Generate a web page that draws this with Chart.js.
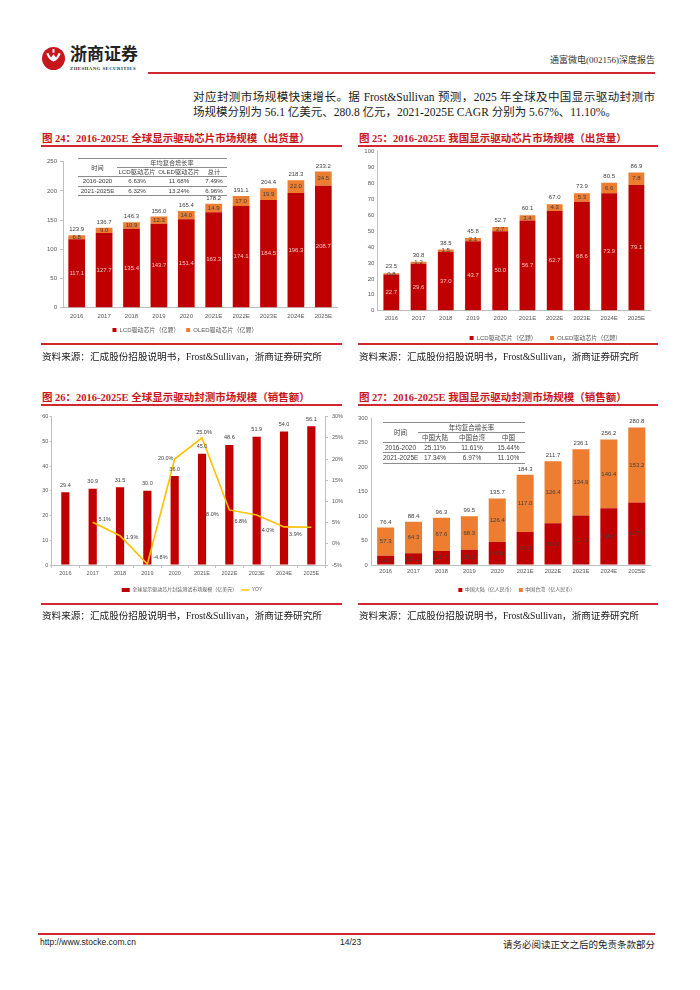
<!DOCTYPE html>
<html lang="zh-CN">
<head>
<meta charset="utf-8">
<title>通富微电(002156)深度报告 14/23</title>
<script src="https://cdn.jsdelivr.net/npm/chart.js@4.4.1/dist/chart.umd.min.js"></script>
<style>
  html, body { margin: 0; padding: 0; background: #fff; }
  body { width: 700px; height: 990px; position: relative; overflow: hidden;
         font-family: "Liberation Serif", "Noto Sans CJK SC", serif; color: #1a1a1a; }
  .abs { position: absolute; }
  .box { position: absolute; }
  .redline { position: absolute; background: #d0282e; }
  .body-line { position: absolute; left: 193px; font-size: 11.5px; line-height: 14px; white-space: nowrap; }
  .fig-title { position: absolute; font-size: 10.5px; font-weight: bold; color: #c8161d; white-space: nowrap;
               font-family: "Liberation Serif", "Noto Sans CJK SC", serif; }
  .source { position: absolute; font-size: 9.6px; white-space: nowrap; color: #1a1a1a; }
  .foot { position: absolute; top: 937px; font-size: 8.5px; white-space: nowrap; color: #1a1a1a; }
  table.cagr { position: absolute; border-collapse: collapse; table-layout: fixed;
               font-family: "Liberation Sans", "Noto Sans CJK SC", sans-serif; color: #404040;
               border-top: 0.7px solid #8c8c8c; }
  table.cagr td { padding: 0; text-align: center; white-space: nowrap; border-bottom: 0.7px solid #8c8c8c; }
  #t24 { left: 78px; top: 158px; font-size: 6.2px; }
  #t24 td { height: 8.2px; line-height: 8.2px; }
  #t27 { left: 383px; top: 421.5px; font-size: 6.5px; }
  #t27 td { height: 9.3px; line-height: 9.3px; }
</style>
</head>
<body>

<!-- header -->
<svg class="abs" style="left:42px;top:47px" width="23" height="23" viewBox="0 0 24 24">
  <circle cx="12" cy="12" r="12" fill="#c8161d"/>
  <path d="M5.5 6.5 Q12 21 18.5 6.5" stroke="#fff" stroke-width="2.2" fill="none"/>
  <path d="M12 7.5 L15 11.5 L12 15.5 L9 11.5 Z" fill="#fff"/>
  <rect x="11" y="2" width="2" height="4" fill="#fff"/>
</svg>
<div class="abs" style="left:70px;top:43px;font-family:'Noto Sans CJK SC';font-weight:bold;font-size:17px;line-height:20px;color:#222;">浙商证券</div>
<div class="abs" style="left:70px;top:66px;font-size:4.8px;line-height:5px;letter-spacing:0.45px;font-weight:bold;color:#333;">ZHESHANG SECURITIES</div>
<div class="abs" style="right:45px;top:53px;font-size:9px;color:#333;">通富微电(002156)深度报告</div>
<div class="redline" style="left:148px;top:72px;width:507px;height:2px;"></div>

<div class="body-line" style="top:90px;width:462px;text-align:justify;text-align-last:justify;">对应封测市场规模快速增长。据 Frost&amp;Sullivan 预测，2025 年全球及中国显示驱动封测市</div>
<div class="body-line" style="top:105px;">场规模分别为 56.1 亿美元、280.8 亿元，2021-2025E CAGR 分别为 5.67%、11.10%。</div>

<!-- figure titles -->
<div class="fig-title" style="left:42px;top:130px;">图 24：2016-2025E 全球显示驱动芯片市场规模（出货量）</div>
<div class="fig-title" style="left:359px;top:130px;">图 25：2016-2025E 我国显示驱动芯片市场规模（出货量）</div>
<div class="redline" style="left:41px;top:145px;width:301px;height:1.6px;"></div>
<div class="redline" style="left:358px;top:145px;width:300px;height:1.6px;"></div>

<div class="box" style="left:30px;top:150px;width:315px;height:195px;"><canvas id="c24"></canvas></div>
<div class="box" style="left:355px;top:140px;width:315px;height:212px;"><canvas id="c25"></canvas></div>
<table class="cagr" id="t24"></table>

<div class="redline" style="left:41px;top:343px;width:301px;height:1.6px;"></div>
<div class="redline" style="left:358px;top:343px;width:300px;height:1.6px;"></div>
<div class="source" style="left:42px;top:349px;">资料来源：汇成股份招股说明书，Frost&amp;Sullivan，浙商证券研究所</div>
<div class="source" style="left:359px;top:349px;">资料来源：汇成股份招股说明书，Frost&amp;Sullivan，浙商证券研究所</div>

<div class="fig-title" style="left:42px;top:389px;">图 26：2016-2025E 全球显示驱动封测市场规模（销售额）</div>
<div class="fig-title" style="left:359px;top:389px;">图 27：2016-2025E 我国显示驱动封测市场规模（销售额）</div>
<div class="redline" style="left:41px;top:404px;width:301px;height:1.6px;"></div>
<div class="redline" style="left:358px;top:404px;width:300px;height:1.6px;"></div>

<div class="box" style="left:30px;top:405px;width:315px;height:200px;"><canvas id="c26"></canvas></div>
<div class="box" style="left:355px;top:405px;width:315px;height:200px;"><canvas id="c27"></canvas></div>
<table class="cagr" id="t27"></table>

<div class="redline" style="left:41px;top:603px;width:301px;height:1.6px;"></div>
<div class="redline" style="left:358px;top:603px;width:300px;height:1.6px;"></div>
<div class="source" style="left:42px;top:608px;">资料来源：汇成股份招股说明书，Frost&amp;Sullivan，浙商证券研究所</div>
<div class="source" style="left:359px;top:608px;">资料来源：汇成股份招股说明书，Frost&amp;Sullivan，浙商证券研究所</div>

<!-- footer -->
<div class="redline" style="left:38px;top:933px;width:617px;height:1.6px;"></div>
<div class="foot" style="left:40px;font-family:'Liberation Sans';">http://www.stocke.com.cn</div>
<div class="foot" style="left:340px;font-family:'Liberation Sans';">14/23</div>
<div class="foot" style="right:45px;font-size:9.5px;">请务必阅读正文之后的免责条款部分</div>

<script>
const FONT = "'Liberation Sans', 'Noto Sans CJK SC', sans-serif";
const RED = '#C00000';
const ORANGE = '#ED7D31';
const GOLD = '#FFC000';
const AXIS = '#BFBFBF';
const TEXT = '#595959';

// categories
const years = ['2016', '2017', '2018', '2019', '2020', '2021E', '2022E', '2023E', '2024E', '2025E'];

// 图24 全球显示驱动芯片出货量（亿颗）
const globalLcd = [117.1, 127.7, 135.4, 143.7, 151.4, 163.3, 174.1, 184.5, 196.3, 208.7];
const globalOled = [6.8, 9.0, 10.9, 12.3, 14.0, 14.9, 17.0, 19.9, 22.0, 24.5];
const globalTotal = [123.9, 136.7, 146.3, 156.0, 165.4, 178.2, 191.1, 204.4, 218.3, 233.2];
const globalCagrHead = ['LCD驱动芯片', 'OLED驱动芯片', '总计'];
const globalCagrRows = [
    ['2016-2020', '6.63%', '11.68%', '7.49%'],
    ['2021-2025E', '6.32%', '13.24%', '6.96%']
];

// 图25 我国显示驱动芯片出货量（亿颗）
const chinaLcd = [22.7, 29.6, 37.0, 43.7, 50.0, 56.7, 62.7, 68.6, 73.9, 79.1];
const chinaOled = [0.8, 1.2, 1.5, 2.1, 2.7, 3.4, 4.3, 5.3, 6.6, 7.8];
const chinaTotal = [23.5, 30.8, 38.5, 45.8, 52.7, 60.1, 67.0, 73.9, 80.5, 86.9];

// 图26 全球显示驱动封测销售额（亿美元）与同比
const globalPkg = [29.4, 30.9, 31.5, 30.0, 36.0, 45.0, 48.6, 51.9, 54.0, 56.1];
const globalPkgYoy = [null, 5.1, 1.9, -4.8, 20.0, 25.0, 8.0, 6.8, 4.0, 3.9];

// 图27 我国显示驱动封测销售额（亿人民币）
const mainland = [19.1, 24.1, 28.7, 31.2, 46.8, 67.3, 85.3, 101.2, 115.8, 127.6];
const taiwan = [57.3, 64.3, 67.6, 68.3, 88.9, 117.0, 126.4, 134.9, 140.4, 153.2];
// the source labels the 2020 Taiwan segment "126.4"
const taiwanLabels = ['57.3', '64.3', '67.6', '68.3', '126.4', '117.0', '126.4', '134.9', '140.4', '153.2'];
const chinaPkgTotal = [76.4, 88.4, 96.3, 99.5, 135.7, 184.3, 211.7, 236.1, 256.2, 280.8];
const chinaCagrHead = ['中国大陆', '中国台湾', '中国'];
const chinaCagrRows = [
    ['2016-2020', '25.11%', '11.61%', '15.44%'],
    ['2021-2025E', '17.34%', '6.97%', '11.10%']
];

// draws value labels on bars / points and stack totals
const barValues = {
    id: 'barValues',
    afterDatasetsDraw(chart, args, opts) {
        const ctx = chart.ctx;
        ctx.save();
        ctx.textAlign = 'center';
        ctx.textBaseline = 'middle';
        ctx.font = (opts.size || 6) + 'px ' + FONT;
        chart.data.datasets.forEach((ds, di) => {
            const lab = ds.valueLabel;
            if (!lab) return;
            chart.getDatasetMeta(di).data.forEach((el, i) => {
                const v = ds.data[i];
                if (v === null || v === undefined) return;
                const text = lab.text ? lab.text[i] : (lab.suffix ? v.toFixed(1) + lab.suffix : v.toFixed(1));
                let x = el.x;
                let y;
                if (lab.pos === 'center') {
                    y = (el.y + el.base) / 2;
                } else if (lab.offsets) {
                    x += lab.offsets[i][0];
                    y = el.y + lab.offsets[i][1];
                } else {
                    y = el.y - lab.gap;
                }
                ctx.fillStyle = lab.color;
                ctx.fillText(text, x, y);
            });
        });
        if (opts.totals) {
            const top = chart.getDatasetMeta(chart.data.datasets.length - 1);
            ctx.fillStyle = opts.totalColor || '#404040';
            top.data.forEach((el, i) => {
                ctx.fillText(opts.totals[i].toFixed(1), el.x, el.y - opts.gap);
            });
        }
        ctx.restore();
    }
};

// moves the legend sideways after layout
const legendShift = {
    id: 'legendShift',
    afterUpdate(chart, args, opts) {
        const lg = chart.legend;
        if (!lg || !opts.x) return;
        lg.left += opts.x;
        lg.right += opts.x;
        lg.adjustHitBoxes();
    }
};

function setWidth(px) { return (scale) => { scale.width = px; }; }
function setHeight(px) { return (scale) => { scale.height = px; }; }

function tickFont(size) { return { family: FONT, size: size }; }

function buildTable(id, head, rows, widths) {
    let html = '<colgroup>' + widths.map(w => '<col style="width:' + w + 'px">').join('') + '</colgroup>';
    html += '<tr><td rowspan="2">时间</td><td colspan="3">年均复合增长率</td></tr>';
    html += '<tr>' + head.map(h => '<td>' + h + '</td>').join('') + '</tr>';
    rows.forEach(r => { html += '<tr>' + r.map(c => '<td>' + c + '</td>').join('') + '</tr>'; });
    const t = document.getElementById(id);
    t.style.width = widths.reduce((a, b) => a + b, 0) + 'px';
    t.innerHTML = html;
}

document.addEventListener('DOMContentLoaded', function () {
    Chart.defaults.font.family = FONT;
    Chart.defaults.color = TEXT;

    buildTable('t24', globalCagrHead, globalCagrRows, [39, 40, 44, 26]);
    buildTable('t27', chinaCagrHead, chinaCagrRows, [35, 34, 40, 33]);

    // 图24 (Stacked Bar)
    new Chart(document.getElementById('c24'), {
        type: 'bar',
        data: {
            labels: years,
            datasets: [{
                label: 'LCD驱动芯片（亿颗）',
                data: globalLcd,
                backgroundColor: RED,
                barPercentage: 0.61,
                categoryPercentage: 1,
                valueLabel: { pos: 'center', color: '#F2C4C4' }
            }, {
                label: 'OLED驱动芯片（亿颗）',
                data: globalOled,
                backgroundColor: ORANGE,
                barPercentage: 0.61,
                categoryPercentage: 1,
                valueLabel: { pos: 'center', color: '#404040' }
            }]
        },
        options: {
            responsive: true,
            maintainAspectRatio: false,
            animation: false,
            layout: { padding: { top: 11.7, left: 3, right: 8, bottom: 2 } },
            scales: {
                x: {
                    stacked: true,
                    grid: { display: true, drawOnChartArea: false, drawTicks: false },
                    border: { color: AXIS },
                    ticks: { font: tickFont(6), padding: 5.4, color: TEXT },
                    afterFit: setHeight(12.6)
                },
                y: {
                    stacked: true,
                    min: 0,
                    max: 250,
                    grid: { display: true, drawOnChartArea: false, drawTicks: true, tickLength: 3, color: AXIS },
                    border: { color: AXIS },
                    ticks: { stepSize: 50, font: tickFont(6), padding: 3, color: TEXT },
                    afterFit: setWidth(30)
                }
            },
            plugins: {
                legend: {
                    position: 'bottom',
                    labels: { boxWidth: 4, boxHeight: 4, padding: 6.7, font: { family: FONT, size: 6 }, color: TEXT }
                },
                tooltip: { enabled: false },
                barValues: { totals: globalTotal, gap: 5.5, size: 6 },
                legendShift: { x: 0 }
            }
        },
        plugins: [barValues, legendShift]
    });

    // 图25 (Stacked Bar)
    new Chart(document.getElementById('c25'), {
        type: 'bar',
        data: {
            labels: years,
            datasets: [{
                label: 'LCD驱动芯片（亿颗）',
                data: chinaLcd,
                backgroundColor: RED,
                barPercentage: 0.58,
                categoryPercentage: 1,
                valueLabel: { pos: 'center', color: '#F2C4C4' }
            }, {
                label: 'OLED驱动芯片（亿颗）',
                data: chinaOled,
                backgroundColor: ORANGE,
                barPercentage: 0.58,
                categoryPercentage: 1,
                valueLabel: { pos: 'center', color: '#404040' }
            }]
        },
        options: {
            responsive: true,
            maintainAspectRatio: false,
            animation: false,
            layout: { padding: { top: 11.7, left: 3, right: 20, bottom: 1 } },
            scales: {
                x: {
                    stacked: true,
                    grid: { display: true, drawOnChartArea: false, drawTicks: false },
                    border: { color: AXIS },
                    ticks: { font: tickFont(6), padding: 3.7, color: TEXT },
                    afterFit: setHeight(10.9)
                },
                y: {
                    stacked: true,
                    min: 0,
                    max: 100,
                    grid: { display: true, drawOnChartArea: false, drawTicks: false },
                    border: { color: AXIS },
                    ticks: { stepSize: 10, font: tickFont(6), padding: 3.4, color: TEXT },
                    afterFit: setWidth(19.7)
                }
            },
            plugins: {
                legend: {
                    position: 'bottom',
                    labels: { boxWidth: 4, boxHeight: 4, padding: 13.4, font: { family: FONT, size: 6 }, color: TEXT }
                },
                tooltip: { enabled: false },
                barValues: { totals: chinaTotal, gap: 6.5, size: 6 },
                legendShift: { x: 41.5 }
            }
        },
        plugins: [barValues, legendShift]
    });

    // 图26 (Bar + YOY Line)
    new Chart(document.getElementById('c26'), {
        type: 'bar',
        data: {
            labels: years,
            datasets: [{
                label: '全球显示驱动芯片封装测试市场规模（亿美元）',
                data: globalPkg,
                backgroundColor: RED,
                barPercentage: 0.3,
                categoryPercentage: 1,
                pointStyle: 'rect',
                order: 1,
                valueLabel: { gap: 7, color: '#404040' }
            }, {
                type: 'line',
                label: 'YOY',
                data: globalPkgYoy,
                yAxisID: 'y1',
                borderColor: GOLD,
                backgroundColor: GOLD,
                borderWidth: 1.6,
                pointRadius: 0,
                pointStyle: 'line',
                tension: 0,
                order: 0,
                valueLabel: {
                    suffix: '%',
                    color: '#404040',
                    offsets: [[0, 0], [12, -3], [12, 2], [13, -7], [-9, -1], [2, -5], [-17, 5], [-16, 6], [-16, 4], [-16, 7]]
                }
            }]
        },
        options: {
            responsive: true,
            maintainAspectRatio: false,
            animation: false,
            layout: { padding: { top: 11.7, left: 2, right: 2, bottom: 2.5 } },
            scales: {
                x: {
                    grid: { display: true, drawOnChartArea: false, drawTicks: true, tickLength: 3, color: AXIS },
                    border: { color: AXIS },
                    ticks: { font: tickFont(5.5), padding: 2.4, color: TEXT },
                    afterFit: setHeight(18.5)
                },
                y: {
                    min: 0,
                    max: 60,
                    grid: { display: true, drawOnChartArea: false, drawTicks: true, tickLength: 2, color: AXIS },
                    border: { color: AXIS },
                    ticks: { stepSize: 10, font: tickFont(5.5), padding: 1.4, color: TEXT },
                    afterFit: setWidth(19.7)
                },
                y1: {
                    position: 'right',
                    min: -5,
                    max: 30,
                    grid: { display: true, drawOnChartArea: false, drawTicks: true, tickLength: 3, color: AXIS },
                    border: { color: AXIS },
                    ticks: { stepSize: 5, font: tickFont(5.5), padding: 4, color: TEXT, callback: v => v + '%' },
                    afterFit: setWidth(18)
                }
            },
            plugins: {
                legend: {
                    position: 'bottom',
                    labels: {
                        usePointStyle: true, pointStyleWidth: 8, boxWidth: 8, boxHeight: 4, padding: 4,
                        font: { family: FONT, size: 5 }, color: TEXT,
                        sort: (a, b) => a.datasetIndex - b.datasetIndex
                    }
                },
                tooltip: { enabled: false },
                barValues: { size: 5.5 },
                legendShift: { x: 4.5 }
            }
        },
        plugins: [barValues, legendShift]
    });

    // 图27 (Stacked Bar)
    new Chart(document.getElementById('c27'), {
        type: 'bar',
        data: {
            labels: years,
            datasets: [{
                label: '中国大陆（亿人民币）',
                data: mainland,
                backgroundColor: RED,
                barPercentage: 0.61,
                categoryPercentage: 1,
                valueLabel: { pos: 'center', color: '#404040' }
            }, {
                label: '中国台湾（亿人民币）',
                data: taiwan,
                backgroundColor: ORANGE,
                barPercentage: 0.61,
                categoryPercentage: 1,
                valueLabel: { pos: 'center', color: '#404040', text: taiwanLabels }
            }]
        },
        options: {
            responsive: true,
            maintainAspectRatio: false,
            animation: false,
            layout: { padding: { top: 13, left: 2, right: 19.3, bottom: 2.5 } },
            scales: {
                x: {
                    stacked: true,
                    grid: { display: true, drawOnChartArea: false, drawTicks: false },
                    border: { color: AXIS },
                    ticks: { font: tickFont(5.8), padding: 3.4, color: TEXT },
                    afterFit: setHeight(18.5)
                },
                y: {
                    stacked: true,
                    min: 0,
                    max: 300,
                    grid: { display: true, drawOnChartArea: false, drawTicks: false },
                    border: { color: AXIS },
                    ticks: { stepSize: 50, font: tickFont(5.8), padding: 4, color: TEXT },
                    afterFit: setWidth(14.7)
                }
            },
            plugins: {
                legend: {
                    position: 'bottom',
                    labels: { boxWidth: 4, boxHeight: 4, padding: 4, font: { family: FONT, size: 5 }, color: TEXT }
                },
                tooltip: { enabled: false },
                barValues: { totals: chinaPkgTotal, gap: 5.7, size: 6 },
                legendShift: { x: 13 }
            }
        },
        plugins: [barValues, legendShift]
    });
});
</script>
</body>
</html>
